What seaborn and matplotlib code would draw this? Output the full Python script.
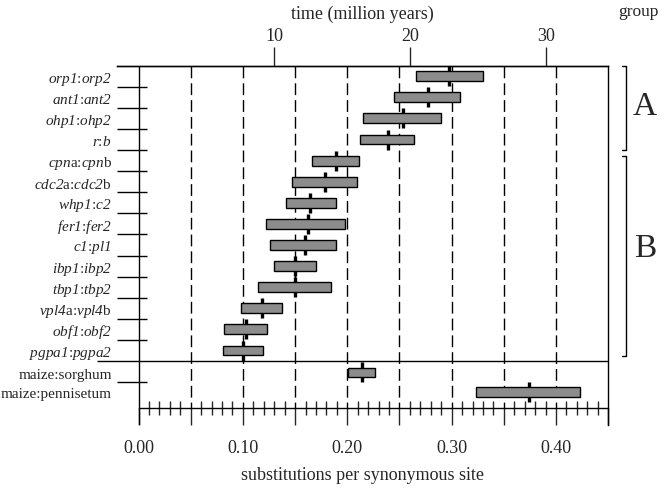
import numpy as np
import pandas as pd
import matplotlib
matplotlib.use("Agg")
import matplotlib.pyplot as plt
import seaborn as sns

# gene pairs (group A then group B) and the two grass comparisons
gene_labels = [r"$orp1$:$orp2$", r"$ant1$:$ant2$", r"$ohp1$:$ohp2$", r"$r$:$b$",
               r"$cpn$a:$cpn$b", r"$cdc2$a:$cdc2$b", r"$whp1$:$c2$", r"$fer1$:$fer2$",
               r"$c1$:$pl1$", r"$ibp1$:$ibp2$", r"$tbp1$:$tbp2$", r"$vpl4$a:$vpl4$b",
               r"$obf1$:$obf2$", r"$pgpa1$:$pgpa2$"]
gene_low = [0.266, 0.245, 0.215, 0.212, 0.166, 0.147, 0.141, 0.122, 0.126, 0.130, 0.114, 0.098, 0.082, 0.081]
gene_high = [0.330, 0.308, 0.290, 0.264, 0.211, 0.209, 0.189, 0.198, 0.189, 0.170, 0.184, 0.137, 0.123, 0.119]
gene_mid = [0.297, 0.277, 0.253, 0.239, 0.189, 0.179, 0.164, 0.162, 0.159, 0.150, 0.150, 0.118, 0.103, 0.100]

grass_labels = ["maize:sorghum", "maize:pennisetum"]
grass_low = [0.201, 0.323]
grass_high = [0.227, 0.423]
grass_mid = [0.214, 0.374]

time_ticks = [10, 20, 30]
rate = 0.013  # substitutions per site per million years (2 x 6.5e-9)

sns.set_style("white")
plt.rcParams["font.family"] = ["Liberation Serif", "DejaVu Serif"]
# gene names in italics (digits too), plain text stays roman
plt.rcParams["mathtext.fontset"] = "custom"
plt.rcParams["mathtext.it"] = "Liberation Serif:italic"
plt.rcParams["mathtext.rm"] = "Liberation Serif:italic"
plt.rcParams["mathtext.default"] = "it"

# row layout
gene_y = list(range(len(gene_labels)))
grass_y = [14.04, 14.96]
sep_y = 13.5
axis_y = 15.74

df = pd.DataFrame({
    "label": gene_labels + grass_labels,
    "low": gene_low + grass_low,
    "high": gene_high + grass_high,
    "mid": gene_mid + grass_mid,
    "y": gene_y + grass_y,
})

fig = plt.figure(figsize=(6.69, 4.88), dpi=100)
ax = fig.add_axes([0.1750, 0.1291, 0.7341, 0.7363])
ax.set_xlim(-0.0206, 0.45)
ax.set_ylim(16.53, -0.5)

# dashed reference lines
ax.vlines(np.arange(0.05, 0.401, 0.05), -0.5, axis_y, colors="black", lw=1,
          linestyles=(0, (8.5, 3.6)), zorder=1)
ax.axvline(0, color="black", lw=1, zorder=1)

# medians sit behind the bars
sns.scatterplot(data=df, x="mid", y="y", marker="|", s=228, color="black",
                linewidth=2.4, zorder=2, ax=ax, legend=False)
ax.barh(df["y"], df["high"] - df["low"], left=df["low"], height=0.47,
        color="#8c8c8c", edgecolor="black", lw=1, zorder=3)

# separator and row boundary ticks
ax.hlines(sep_y, -0.04, 0.45, colors="black", lw=1, clip_on=False)
ax.hlines(list(np.arange(0.5, 13, 1.0)) + [14.5], -0.0206, 0.0082, colors="black", lw=1)

# row labels, sitting a little below the row centre as in the original
ax.set_yticks([])
for lab, yy in zip(df["label"], df["y"]):
    ax.text(-0.0257, yy + 0.14, lab, ha="right", va="center", fontsize=11)

# bottom axis
ax.spines["left"].set_visible(False)
ax.spines["bottom"].set_position(("data", axis_y))
ax.spines["bottom"].set_bounds(0, 0.45)
major = np.arange(0, 0.451, 0.05)
ax.set_xticks(major)
ax.set_xticklabels([f"{v:.2f}" if round(v * 100) % 10 == 0 and v < 0.41 else "" for v in major])
ax.set_xticks(np.arange(0.01, 0.45, 0.01), minor=True)
ax.tick_params(axis="x", which="major", direction="out", length=12, width=1, pad=11, labelsize=13, bottom=True, top=False)
ax.tick_params(axis="x", which="minor", direction="inout", length=10, width=1, bottom=True, top=False)
ax.set_xlabel("substitutions per synonymous site", fontsize=13, labelpad=7)
ax.set_ylabel("")
for sp in ax.spines.values():
    sp.set_linewidth(1)
    sp.set_color("black")

# top time axis
sec = ax.secondary_xaxis("top", functions=(lambda s: s / rate, lambda t: t * rate))
sec.set_xticks(time_ticks)
sec.tick_params(direction="out", length=13.7, width=1, pad=1.5, labelsize=13)
sec.set_xlabel("time (million years)", fontsize=13, labelpad=6)
sec.spines["top"].set_linewidth(1)

# group brackets
for y0, y1, name, ly in [(-0.5, 3.5, "A", 1.45), (3.8, 13.25, "B", 8.2)]:
    ax.plot([0.4635, 0.4672, 0.4672, 0.4635], [y0, y0, y1, y1], color="black", lw=1, clip_on=False)
    ax.text(0.485, ly, name, fontsize=24, ha="center", va="center")
fig.text(638.6 / 669, 1 - 11.7 / 488, "group", fontsize=12.5, ha="center", va="center")

fig.savefig("out.png", dpi=100)
